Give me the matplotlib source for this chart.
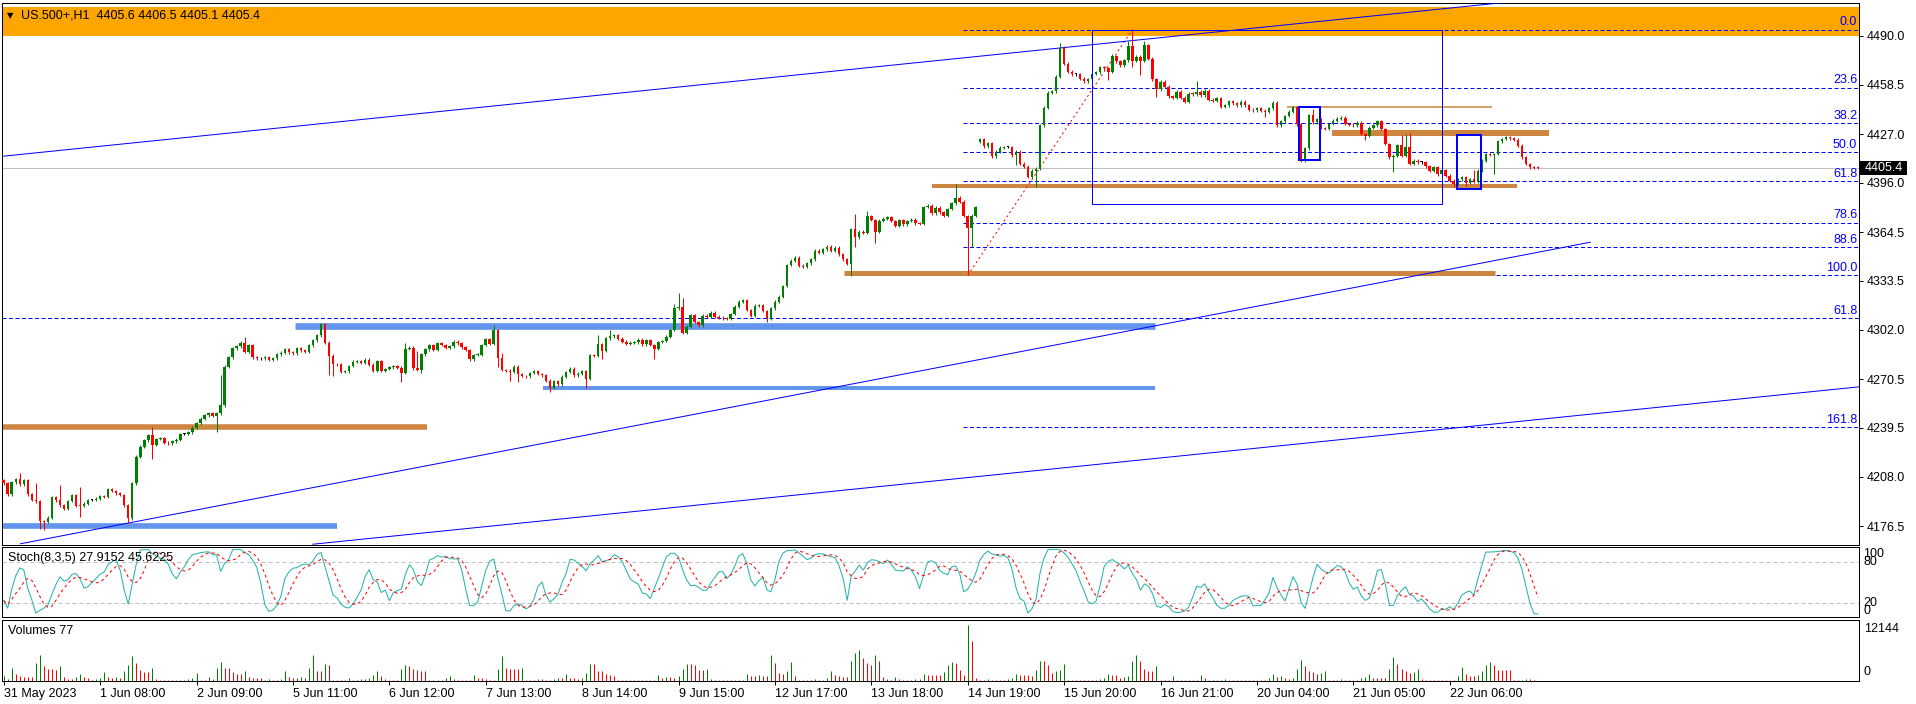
import numpy as np
import pandas as pd
import matplotlib
matplotlib.use("Agg")
import matplotlib.pyplot as plt
import matplotlib.transforms as mtransforms
from matplotlib.patches import Rectangle

plt.rcParams['font.family'] = ['Liberation Sans', 'DejaVu Sans']
plt.rcParams['font.size'] = 9

# ---------------- data (H1 bars, index 0 = 31 May) ----------------
first_open = 4206.0
closes = [
    4204.0, 4197.0, 4204.5, 4206.6, 4203.4, 4206.0, 4196.8, 4193.2, 4192.4, 4179.8,
    4179.4, 4182.0, 4195.0, 4193.0, 4190.0, 4187.5, 4192.6, 4196.4, 4189.6, 4189.4,
    4191.0, 4193.2, 4193.2, 4194.0, 4195.8, 4195.2, 4200.2, 4199.0, 4197.5, 4196.4,
    4190.0, 4181.5, 4204.0, 4220.9, 4227.3, 4231.5, 4234.7, 4228.4, 4232.2, 4232.6,
    4229.8, 4229.4, 4230.9, 4231.8, 4235.4, 4235.4, 4236.4, 4239.4, 4242.2, 4245.2,
    4247.5, 4248.8, 4246.9, 4248.6, 4253.9, 4278.4, 4284.4, 4290.1, 4291.6, 4293.7,
    4288.0, 4292.2, 4284.4, 4283.7, 4283.7, 4284.4, 4283.0, 4283.8, 4286.3, 4287.3,
    4289.5, 4287.6, 4286.9, 4290.1, 4289.0, 4288.0, 4292.2, 4295.4, 4298.6, 4305.5,
    4293.7, 4285.4, 4280.2, 4280.0, 4275.2, 4275.5, 4278.9, 4281.6, 4282.0, 4281.0,
    4282.9, 4279.7, 4275.7, 4282.1, 4275.7, 4277.0, 4278.0, 4278.9, 4277.8, 4274.6,
    4289.7, 4290.6, 4277.4, 4276.3, 4286.5, 4289.5, 4292.3, 4289.1, 4293.6, 4292.3,
    4290.6, 4291.6, 4294.4, 4293.4, 4290.8, 4289.1, 4283.3, 4285.9, 4286.2, 4292.3,
    4296.1, 4292.9, 4301.9, 4284.2, 4276.3, 4275.9, 4275.2, 4278.4, 4273.8, 4272.5,
    4272.3, 4274.4, 4275.7, 4273.8, 4272.9, 4269.5, 4265.0, 4269.3, 4267.2, 4272.1,
    4275.0, 4277.2, 4272.9, 4274.0, 4275.5, 4270.6, 4285.9, 4285.3, 4292.7, 4288.5,
    4296.5, 4298.0, 4298.4, 4296.3, 4294.4, 4292.9, 4293.8, 4294.0, 4295.7, 4292.7,
    4295.5, 4292.3, 4290.0, 4294.2, 4294.9, 4297.6, 4301.9, 4315.7, 4316.8, 4300.2,
    4304.0, 4311.5, 4307.0, 4305.0, 4311.0, 4310.5, 4313.0, 4310.5, 4309.8, 4309.4,
    4309.0, 4312.1, 4316.8, 4320.0, 4321.1, 4314.7, 4311.0, 4317.4, 4317.8, 4314.0,
    4309.3, 4315.7, 4320.0, 4323.2, 4330.0, 4343.4, 4346.2, 4348.1, 4343.0, 4342.4,
    4344.5, 4347.2, 4352.6, 4351.3, 4353.6, 4355.1, 4352.6, 4354.5, 4350.2, 4347.0,
    4344.1, 4366.4, 4361.1, 4364.7, 4364.1, 4374.7, 4372.2, 4364.7, 4371.8, 4373.0,
    4374.0, 4371.5, 4368.6, 4372.0, 4369.4, 4371.6, 4372.4, 4370.0, 4369.6, 4380.5,
    4381.3, 4376.4, 4380.0, 4377.1, 4374.7, 4379.2, 4382.8, 4386.4, 4383.9, 4374.7,
    4367.0, 4375.0, 4380.5, 4424.0, 4419.4, 4421.1, 4413.0, 4415.8, 4418.3, 4418.9,
    4418.9, 4413.6, 4415.8, 4408.3, 4406.2, 4399.8, 4403.6, 4405.1, 4432.8, 4443.9,
    4453.5, 4454.5, 4463.7, 4482.4, 4472.2, 4466.9, 4465.4, 4465.4, 4462.6, 4460.9,
    4462.0, 4465.8, 4466.5, 4469.7, 4469.2, 4466.9, 4476.9, 4473.7, 4471.1, 4474.3,
    4483.3, 4473.9, 4476.5, 4473.9, 4483.9, 4475.4, 4462.0, 4455.6, 4460.5, 4457.3,
    4451.3, 4450.3, 4454.1, 4450.3, 4447.7, 4453.0, 4452.6, 4454.1, 4452.0, 4454.7,
    4449.2, 4448.4, 4449.9, 4444.5, 4445.6, 4448.2, 4446.7, 4445.6, 4447.7, 4445.6,
    4442.8, 4442.3, 4443.5, 4442.0, 4441.3, 4443.5, 4447.1, 4432.8, 4435.4, 4438.6,
    4441.3, 4444.1, 4433.4, 4410.1, 4418.0, 4439.0, 4434.7, 4436.5, 4431.0, 4430.4,
    4433.6, 4435.7, 4436.9, 4437.5, 4433.6, 4433.0, 4432.6, 4434.5, 4427.2, 4426.1,
    4431.3, 4432.6, 4435.5, 4430.4, 4420.8, 4412.2, 4413.3, 4420.0, 4413.3, 4419.0,
    4408.0, 4410.0, 4409.2, 4409.2, 4406.4, 4403.6, 4405.8, 4401.5, 4404.0, 4400.4,
    4397.2, 4395.5, 4398.3, 4399.4, 4396.1, 4398.3, 4396.5, 4403.6, 4410.1, 4414.4,
    4413.9, 4414.4, 4422.5, 4424.0, 4425.1, 4424.5, 4423.4, 4419.7, 4412.2, 4408.0,
    4405.9, 4405.6, 4405.4,
]
gap_opens = {243: 4422.0}
# wick lengths (points) that stand out; the rest use a small default
wick_up = {4: 4, 8: 11, 14: 10, 19: 12, 37: 5, 54: 19, 60: 3.5, 100: 4, 103: 11, 122: 3,
           124: 3, 148: 6, 151: 4, 167: 3, 168: 8.5, 169: 5.3, 212: 9.6, 215: 3, 237: 9,
           263: 3, 276: 1.3, 280: 3.4, 281: 10.2, 284: 3, 297: 6.8, 326: 4.3, 348: 6.5,
           349: 8, 350: 9, 366: 5.7, 382: 0.9}
wick_dn = {9: 5, 10: 5.5, 19: 7, 31: 3, 37: 9, 53: 10, 81: 12, 82: 8, 99: 6, 104: 2, 123: 6,
           126: 6, 128: 5, 136: 2.5, 145: 6, 149: 5, 162: 6.5, 190: 2.5, 211: 8, 212: 6,
           217: 7, 240: 29.8, 241: 12, 246: 1.5, 252: 6, 257: 10.2, 275: 5, 281: 4, 283: 9,
           287: 5, 314: 3.6, 323: 1, 339: 2.7, 346: 9.6, 361: 2.5, 364: 2, 371: 12.4, 382: 0.3}

volumes = [
    1060, 560, 2820, 1550, 1060, 920, 850, 850, 3880, 5650,
    3320, 2610, 2610, 2470, 3180, 850, 560, 560, 850, 1550,
    850, 710, 350, 560, 710, 1980, 920, 710, 920, 710,
    2120, 3530, 5370, 3880, 2330, 1910, 1910, 2820, 560, 350,
    350, 350, 350, 280, 350, 350, 560, 710, 1770, 350,
    350, 850, 560, 2820, 4020, 2820, 2820, 1910, 1550, 1550,
    2120, 850, 710, 710, 710, 350, 560, 350, 350, 560,
    2120, 850, 710, 710, 850, 710, 2820, 5510, 2120, 2120,
    3670, 3530, 350, 350, 350, 210, 710, 350, 350, 560,
    560, 710, 1270, 2120, 1060, 560, 350, 280, 210, 2680,
    3390, 3180, 2680, 2470, 2260, 2120, 210, 210, 350, 350,
    710, 1060, 560, 350, 350, 350, 350, 1410, 710, 710,
    560, 350, 350, 2680, 5300, 2820, 2680, 2680, 2680, 2820,
    350, 350, 350, 560, 560, 350, 350, 560, 710, 710,
    1550, 710, 710, 560, 710, 1770, 3670, 3670, 2120, 2120,
    1550, 1410, 1060, 350, 210, 350, 350, 350, 210, 210,
    210, 350, 350, 1410, 710, 850, 850, 710, 1060, 2680,
    3670, 3670, 3530, 2470, 2470, 2680, 560, 350, 350, 350,
    350, 210, 210, 350, 350, 1550, 1060, 1060, 1410, 1060,
    1060, 5510,
    3880, 1770, 1550, 2120, 4020, 1060, 350, 350, 350,
    350, 560, 350, 350, 710, 2120, 1270, 1060, 850, 850,
    4240, 6000, 6710, 4940, 3880, 3530, 5510, 4240, 850, 560,
    350, 850, 560, 350, 350, 350, 560, 560, 1620, 1270,
    1270, 1270, 1270, 1980, 3530, 4090, 3880, 2470, 1410, 12144,
    8610, 710, 350, 350, 560, 350, 350, 350, 210, 560,
    710, 1550, 1270, 1270, 1270, 1060, 2470, 4380, 4380, 3530,
    1770, 2120, 2470, 3670, 350, 350, 350, 350, 350, 350,
    350, 350, 560, 710, 1550, 1270, 1270, 710, 850, 1060,
    4380, 5510, 4240, 2680, 2120, 2120, 3180, 350, 350, 210,
    1060, 350, 350, 350, 350, 350, 350, 1410, 710, 350,
    350, 210, 350, 560, 350, 210, 210, 210, 350, 350,
    350, 350, 350, 210, 710, 1550, 850, 1060, 710, 560,
    710, 2680, 4590, 3180, 2260, 1980, 1550, 1770, 2120, 350,
    350, 210, 560, 210, 210, 210, 350, 710, 850, 1550,
    710, 710, 710, 710, 2680, 5080, 3670, 2680, 2120, 1770,
    1980, 2680, 560, 350, 350, 210, 210, 210, 210, 210,
    210, 1060, 2970, 1550, 1060, 1060, 1270, 2120, 3530, 4090,
    3390, 2470, 2470, 2470, 2470, 350, 210, 350, 560, 560,
    350, 77,
]

time_labels = ['31 May 2023', '1 Jun 08:00', '2 Jun 09:00', '5 Jun 11:00', '6 Jun 12:00',
               '7 Jun 13:00', '8 Jun 14:00', '9 Jun 15:00', '12 Jun 17:00', '13 Jun 18:00',
               '14 Jun 19:00', '15 Jun 20:00', '16 Jun 21:00', '20 Jun 04:00', '21 Jun 05:00',
               '22 Jun 06:00']
bars_per_label = 24
price_ticks = [4490.0, 4458.5, 4427.0, 4396.0, 4364.5, 4333.5, 4302.0, 4270.5, 4239.5, 4208.0, 4176.5]
last_price = 4405.4

# drawn objects
fib_low, fib_high = 4336.8, 4493.9
fib_low_bar, fib_high_bar, fib_start_bar = 240, 281, 238.8
fib_levels = [0.0, 23.6, 38.2, 50.0, 61.8, 78.6, 88.6, 100.0, 161.8]
fib_names = ['0.0', '23.6', '38.2', '50.0', '61.8', '78.6', '88.6', '100.0', '161.8']
extra_level, extra_name = 4309.3, '61.8'
orange_zone = (4490.0, 4508.2)
upper_line = [(0, 4413.0), (280, 4486.6)]
mid_line = [(4.2, 4165.3), (395, 4358.0)]
low_line = [(77, 4165.0), (400, 4249.4)]
brown_bands = [(-1, 105.4, 4239.7, 4.0), (209.2, 371.3, 4338.3, 3.6), (231.2, 376.7, 4393.8, 2.9),
               (330.7, 384.7, 4428.0, 4.3), (319.5, 370.6, 4444.5, 1.1)]
blue_bands = [(-1, 83.1, 4176.8, 4.1), (72.6, 286.6, 4304.2, 4.8), (134.2, 286.6, 4265.0, 2.9)]
big_box = (271, 358, 4382.4, 4493.9)
small_boxes = [(322.6, 327.6, 4410.7, 4444.4), (361.7, 367.8, 4392.3, 4426.6)]

# ---------------- derived series ----------------
closes = np.array(closes)
n = len(closes)
x = np.arange(n)
opens = np.r_[first_open, closes[:-1]]
for k, v in gap_opens.items():
    opens[k] = v
top = np.maximum(opens, closes)
bot = np.minimum(opens, closes)
highs = top + np.array([wick_up.get(i, 0.9) for i in range(n)])
lows = bot - np.array([wick_dn.get(i, 0.9) for i in range(n)])

s_c, s_h, s_l = pd.Series(closes), pd.Series(highs), pd.Series(lows)
ll = s_l.rolling(8, min_periods=1).min()
hh = s_h.rolling(8, min_periods=1).max()
stoch_k = 100 * (s_c - ll).rolling(3, min_periods=1).sum() / (hh - ll).rolling(3, min_periods=1).sum()
stoch_d = stoch_k.rolling(5, min_periods=1).mean()

volumes = np.array(volumes)
vol_up = np.r_[True, volumes[1:] > volumes[:-1]]

# ---------------- figure ----------------
W, H = 1916, 704
fig = plt.figure(figsize=(W / 100, H / 100), dpi=100)
PX = 0.72  # one pixel in points


def px_axes(x0, y0, x1, y1):
    a = fig.add_axes([x0 / W, 1 - y1 / H, (x1 - x0) / W, (y1 - y0) / H])
    for s in a.spines.values():
        s.set_linewidth(PX)
        s.set_color('black')
    return a


ax = px_axes(2.3, 2.8, 1859, 545)
ax_st = px_axes(2.3, 547.2, 1859, 617.4)
ax_v = px_axes(2.3, 619.6, 1859, 681.2)

XMIN, XMAX = -0.35, 461.9
for a in (ax, ax_st, ax_v):
    a.set_xlim(XMIN, XMAX)
ax.set_ylim(4164.5, 4511.0)

BLUE = '#0000FF'
ax.axhspan(*orange_zone, color='#FFA500', lw=0, zorder=0)

# fibo levels
rng = fib_high - fib_low
lab_tr = mtransforms.offset_copy(ax.transData, fig, x=-1, y=1.5, units='dots')
for lv, nm in zip(fib_levels, fib_names):
    y = fib_high - lv / 100 * rng
    ax.plot([fib_start_bar, XMAX], [y, y], color=BLUE, lw=PX, ls=(0, (4, 2.5)), zorder=2)
    ax.text(XMAX - 0.2, y, nm, color=BLUE, ha='right', va='bottom', transform=lab_tr, zorder=6)
ax.plot([XMIN, XMAX], [extra_level, extra_level], color=BLUE, lw=PX, ls=(0, (4, 2.5)), zorder=2)
ax.text(XMAX - 0.2, extra_level, extra_name, color=BLUE, ha='right', va='bottom', transform=lab_tr, zorder=6)
ax.plot([fib_low_bar, fib_high_bar], [fib_low, fib_high], color='red', lw=PX, ls=(0, (2, 3)), zorder=3)

ax.axhline(last_price, color='#C0C0C0', lw=PX, zorder=1)

# horizontal bands
for x0, x1, y, w in brown_bands:
    ax.plot([x0, x1], [y, y], color='#CD853F', lw=w, solid_capstyle='butt', zorder=2)
for x0, x1, y, w in blue_bands:
    ax.plot([x0, x1], [y, y], color='#6495ED', lw=w, solid_capstyle='butt', zorder=2)


def ray(pts, x_end):
    (xa, ya), (xb, yb) = pts
    sl = (yb - ya) / (xb - xa)
    return [xa, x_end], [ya, ya + sl * (x_end - xa)]


ax.plot(*ray(upper_line, XMAX), color=BLUE, lw=PX, zorder=3)
ax.plot(*ray(low_line, XMAX), color=BLUE, lw=PX, zorder=3)
ax.plot(*ray(mid_line, mid_line[1][0]), color=BLUE, lw=PX, zorder=3)

# candles
col = np.where(closes > opens, '#008000', np.where(closes < opens, '#FF0000', '#000000'))
ax.vlines(x, lows, highs, colors=col, lw=PX, zorder=5)
ax.bar(x, np.maximum(top - bot, 0.45), bottom=bot, width=0.62, color=col, lw=0, zorder=5)

# rectangles
bx0, bx1, by0, by1 = big_box
ax.add_patch(Rectangle((bx0, by0), bx1 - bx0, by1 - by0, fill=False, ec=BLUE, lw=PX, zorder=6))
for bx0, bx1, by0, by1 in small_boxes:
    ax.add_patch(Rectangle((bx0, by0), bx1 - bx0, by1 - by0, fill=False, ec=BLUE, lw=2 * PX, zorder=6))

# price scale
ax.set_xticks([])
ax.yaxis.tick_right()
ax.set_yticks(price_ticks)
ax.set_yticklabels([f'{p:.1f}' for p in price_ticks])
ax.tick_params(axis='y', length=3, width=PX, pad=2.5, labelsize=9)

fig.canvas.draw()
yd = ax.transData.transform((0, last_price))[1]
fig.patches.append(Rectangle((1860 / W, (yd - 7) / H), 47 / W, 14 / H, transform=fig.transFigure,
                             fc='black', ec='none', zorder=10))
fig.text(1865 / W, yd / H, f'{last_price:.1f}', color='white', va='center', ha='left', zorder=11)

# stochastic
for lv in (20, 80):
    ax_st.axhline(lv, color='#C0C0C0', lw=PX, ls=(0, (4, 3)))
ax_st.plot(x, stoch_k, color='#20B2AA', lw=PX)
ax_st.plot(x, stoch_d, color='red', lw=PX, ls=(0, (3, 3)))
ax_st.set_ylim(-1.1, 101.8)
ax_st.set_xticks([])
ax_st.set_yticks([])
st_tr = mtransforms.blended_transform_factory(ax_st.transAxes, ax_st.transData)
for lv, va in ((100, 'top'), (80, 'center'), (20, 'center'), (0, 'bottom')):
    ax_st.text(1.0, lv, f'{lv}', transform=mtransforms.offset_copy(st_tr, fig, x=4, units='dots'),
               va=va, ha='left')

# volumes
ax_v.vlines(x, 0, volumes, colors=np.where(vol_up, '#008000', '#FF0000'), lw=PX)
ax_v.set_ylim(0, 13200)
ax_v.set_yticks([])
v_tr = mtransforms.blended_transform_factory(ax_v.transAxes, ax_v.transData)
ax_v.text(1.0, 13200, '12144', transform=mtransforms.offset_copy(v_tr, fig, x=5, y=-3, units='dots'),
          va='top', ha='left')
ax_v.text(1.0, 0, '0', transform=mtransforms.offset_copy(v_tr, fig, x=5, y=3, units='dots'),
          va='bottom', ha='left')
ax_v.set_xticks(np.arange(len(time_labels)) * bars_per_label)
ax_v.set_xticklabels(time_labels, ha='left')
ax_v.tick_params(axis='x', length=3, width=PX, pad=2, labelsize=9)

# captions
fig.text(7 / W, 1 - 16 / H, '\u25bc', family='DejaVu Sans', fontsize=6, va='center')
fig.text(21 / W, 1 - 16 / H, 'US.500+,H1  4405.6 4406.5 4405.1 4405.4', va='center')
fig.text(7.5 / W, 1 - 558.5 / H, 'Stoch(8,3,5) 27.9152 45.6225', va='center')
fig.text(7.5 / W, 1 - 631 / H, 'Volumes 77', va='center')

fig.savefig('out.png', dpi=100, facecolor='white')
